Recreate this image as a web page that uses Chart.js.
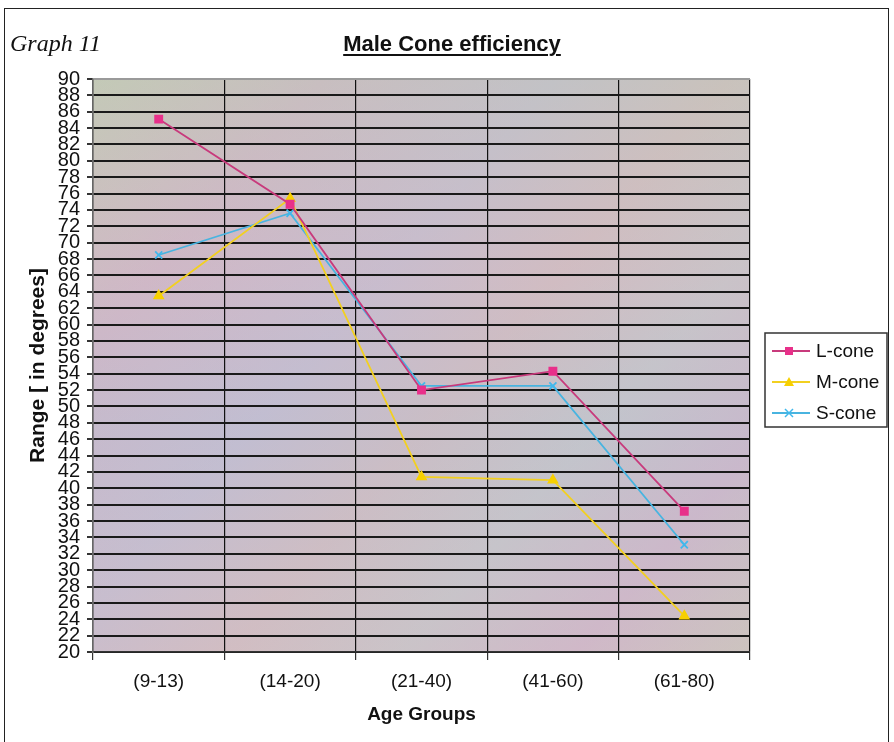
<!DOCTYPE html>
<html>
<head>
<meta charset="utf-8">
<script src="https://cdn.jsdelivr.net/npm/chart.js@4/dist/chart.umd.min.js"></script>
<style>
  body { margin: 0; background: #fff; }
  #wrap { position: relative; width: 894px; height: 742px; overflow: hidden; }
  #frame { position: absolute; left: 4px; top: 8px; width: 883px; height: 760px; border: 1.5px solid #222; pointer-events: none; }
  #graphNo { position: absolute; left: 10px; top: 30px; font: italic 24px 'Liberation Serif', 'DejaVu Serif', serif; color: #111; }
  #title { position: absolute; left: 452px; top: 31px; transform: translateX(-50%); font: bold 22px 'Liberation Sans', Arial, sans-serif; color: #111; text-decoration: underline; text-decoration-thickness: 2px; text-underline-offset: 3px; white-space: nowrap; }
  canvas { position: absolute; left: 0; top: 0; }
</style>
</head>
<body>
<div id="wrap">
  <canvas id="coneChart" width="894" height="742"></canvas>
  <div id="graphNo">Graph 11</div>
  <div id="title">Male Cone efficiency</div>
  <div id="frame"></div>
</div>
<script>
// data
const ageGroups = ['(9-13)', '(14-20)', '(21-40)', '(41-60)', '(61-80)'];
const lCone = [85.1, 74.7, 52.0, 54.3, 37.2];
const mCone = [63.5, 75.4, 41.4, 41.0, 24.4];
const sCone = [68.5, 73.6, 52.5, 52.5, 33.1];
const yTicks = [20, 22, 24, 26, 28, 30, 32, 34, 36, 38, 40, 42, 44, 46, 48, 50, 52, 54,
                56, 58, 60, 62, 64, 66, 68, 70, 72, 74, 76, 78, 80, 82, 84, 86, 88, 90];

const font = "'Liberation Sans', Arial, sans-serif";

// pastel mottled fill behind the grid
const plotBackground = {
    id: 'plotBackground',
    beforeDraw(chart) {
        const {ctx, chartArea: a} = chart;
        ctx.save();
        let g = ctx.createLinearGradient(a.left, a.top, a.right, a.bottom);
        g.addColorStop(0, '#c6cab8');
        g.addColorStop(0.2, '#cdb9c6');
        g.addColorStop(0.4, '#c4bfcf');
        g.addColorStop(0.55, '#cfbfc0');
        g.addColorStop(0.7, '#c5c8c8');
        g.addColorStop(0.85, '#cdb8c8');
        g.addColorStop(1, '#c8c8bb');
        ctx.fillStyle = g;
        ctx.fillRect(a.left, a.top, a.right - a.left, a.bottom - a.top);
        g = ctx.createLinearGradient(a.left, a.top, a.left, a.bottom);
        g.addColorStop(0, 'rgba(190,200,180,0.35)');
        g.addColorStop(0.35, 'rgba(215,180,200,0.25)');
        g.addColorStop(0.6, 'rgba(185,185,215,0.25)');
        g.addColorStop(1, 'rgba(215,185,200,0.3)');
        ctx.fillStyle = g;
        ctx.fillRect(a.left, a.top, a.right - a.left, a.bottom - a.top);
        ctx.restore();
    }
};

// boxed legend with line + marker samples
const boxLegend = {
    id: 'boxLegend',
    afterDraw(chart) {
        const {ctx, chartArea: a} = chart;
        const x0 = a.right + 15, y0 = a.top + 254, w = 122, h = 94;
        ctx.save();
        ctx.fillStyle = '#fff';
        ctx.fillRect(x0, y0, w, h);
        ctx.strokeStyle = '#333';
        ctx.lineWidth = 1.5;
        ctx.strokeRect(x0, y0, w, h);
        chart.data.datasets.forEach((ds, i) => {
            const y = y0 + 18 + i * 31;
            ctx.strokeStyle = ds.borderColor;
            ctx.lineWidth = 1.8;
            ctx.beginPath();
            ctx.moveTo(x0 + 7, y);
            ctx.lineTo(x0 + 45, y);
            ctx.stroke();
            ctx.fillStyle = ds.pointBackgroundColor;
            ctx.strokeStyle = ds.pointBorderColor;
            ctx.lineWidth = 1.5;
            ctx.beginPath();
            if (ds.pointStyle === 'rect') {
                ctx.fillRect(x0 + 20, y - 4, 8, 8);
            } else if (ds.pointStyle === 'triangle') {
                ctx.moveTo(x0 + 24, y - 5); ctx.lineTo(x0 + 29, y + 4); ctx.lineTo(x0 + 19, y + 4);
                ctx.closePath(); ctx.fill();
            } else {
                ctx.moveTo(x0 + 20, y - 4); ctx.lineTo(x0 + 28, y + 4);
                ctx.moveTo(x0 + 28, y - 4); ctx.lineTo(x0 + 20, y + 4);
                ctx.stroke();
            }
            ctx.fillStyle = '#111';
            ctx.font = '19px ' + font;
            ctx.textBaseline = 'middle';
            ctx.fillText(ds.label, x0 + 51, y + 1);
        });
        ctx.restore();
    }
};

const ctx = document.getElementById('coneChart').getContext('2d');
const coneChart = new Chart(ctx, {
    type: 'line',
    data: {
        labels: ageGroups,
        datasets: [{
            label: 'L-cone',
            data: lCone,
            borderColor: '#c83a7c',
            pointBackgroundColor: '#e8308a',
            pointBorderColor: '#e8308a',
            pointStyle: 'rect',
            pointRadius: 5,
            borderWidth: 1.8
        }, {
            label: 'M-cone',
            data: mCone,
            borderColor: '#f2d020',
            pointBackgroundColor: '#f7d000',
            pointBorderColor: '#f7d000',
            pointStyle: 'triangle',
            pointRadius: 5,
            borderWidth: 1.8
        }, {
            label: 'S-cone',
            data: sCone,
            borderColor: '#48b4e0',
            pointBackgroundColor: '#40b8ec',
            pointBorderColor: '#40b8ec',
            pointStyle: 'crossRot',
            pointRadius: 5,
            pointBorderWidth: 1.8,
            borderWidth: 1.8
        }]
    },
    options: {
        responsive: false,
        animation: false,
        layout: { padding: { top: 79, left: 10, right: 144, bottom: 0 } },
        plugins: {
            legend: { display: false },
            tooltip: { enabled: false }
        },
        scales: {
            x: {
                offset: true,
                grid: { offset: true, color: '#111', lineWidth: 1.2, tickLength: 8, tickColor: '#333' },
                border: { color: '#333', width: 1.5 },
                ticks: { color: '#111', padding: 10, font: { family: font, size: 19 } },
                title: { display: true, text: 'Age Groups', color: '#111', padding: { top: 0, bottom: 16 },
                         font: { family: font, size: 19, weight: 'bold' } },
                afterFit(scale) { scale.height = 90; }
            },
            y: {
                min: 20,
                max: 90,
                afterBuildTicks(scale) { scale.ticks = yTicks.map(v => ({ value: v })); },
                grid: {
                    color: c => c.tick && c.tick.value === 90 ? '#9a9a9a' : '#1a1a1a',
                    lineWidth: 2,
                    tickLength: 6,
                    tickColor: '#333'
                },
                border: { color: '#666', width: 1.5 },
                ticks: { autoSkip: false, color: '#111', padding: 7,
                         font: { family: font, size: 20, lineHeight: 1 } },
                title: { display: true, text: 'Range [ in degrees]', color: '#111', padding: { top: 16, bottom: 0 },
                         font: { family: font, size: 21, weight: 'bold' } },
                afterFit(scale) { scale.width = 83; }
            }
        }
    },
    plugins: [plotBackground, boxLegend]
});
</script>
</body>
</html>
